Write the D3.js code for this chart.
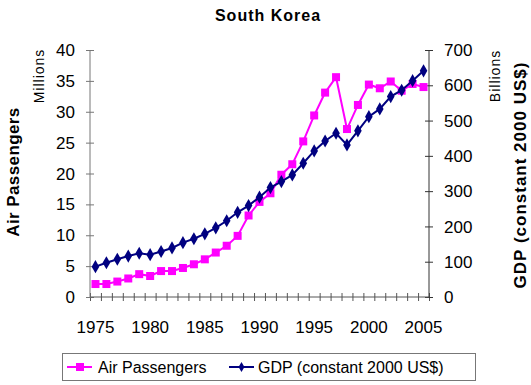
<!DOCTYPE html>
<html>
<head>
<meta charset="utf-8">
<script src="https://cdn.jsdelivr.net/npm/d3@7"></script>
<style>
  body { margin: 0; background: #fff; }
  svg { display: block; font-family: "Liberation Sans", Arial, sans-serif; }
</style>
</head>
<body>
<svg id="chart" width="531" height="385"></svg>
<script>
// chart data
const years = d3.range(1975, 2006);
const passengers = [2.1, 2.1, 2.5, 3.0, 3.7, 3.4, 4.2, 4.2, 4.7, 5.3, 6.1, 7.2, 8.3, 9.9, 13.2,
  15.4, 16.8, 19.8, 21.5, 25.2, 29.4, 33.1, 35.6, 27.2, 31.1, 34.4, 33.8, 34.9, 33.4, 34.5, 34.0];
const gdp = [86, 97, 107, 116, 124, 120, 129, 139, 154, 165, 179, 196, 216, 240, 259,
  283, 310, 327, 346, 379, 414, 442, 464, 431, 471, 511, 533, 568, 586, 613, 641];
const yearLabels = [1975, 1980, 1985, 1990, 1995, 2000, 2005];
const leftTicks = [0, 5, 10, 15, 20, 25, 30, 35, 40];
const rightTicks = [0, 100, 200, 300, 400, 500, 600, 700];

const svg = d3.select("#chart");
const plot = { left: 90, right: 429, top: 50, bottom: 297 };

// scales
const x = d3.scaleBand().domain(years).range([plot.left, plot.right]);
const xEdge = d3.scaleLinear().domain([0, years.length]).range([plot.left, plot.right]);
const yL = d3.scaleLinear().domain([0, 40]).range([plot.bottom, plot.top]);
const yR = d3.scaleLinear().domain([0, 700]).range([plot.bottom, plot.top]);
const cx = d => x(d) + x.bandwidth() / 2;

// title
svg.append("text")
  .attr("x", 268).attr("y", 21)
  .attr("text-anchor", "middle")
  .style("font", "bold 16px 'Liberation Sans', Arial, sans-serif")
  .style("letter-spacing", "1px")
  .text("South Korea");

// x axis: crossing ticks at category edges
svg.append("g")
  .attr("transform", `translate(0,${plot.bottom - 4})`)
  .call(d3.axisBottom(xEdge).tickValues(d3.range(0, years.length + 1)).tickSize(8).tickFormat(""))
  .call(g => g.select(".domain").remove())
  .call(g => g.selectAll("line").attr("stroke", "#555"));

svg.append("g")
  .selectAll("text")
  .data(yearLabels)
  .join("text")
  .attr("x", d => cx(d))
  .attr("y", 333)
  .attr("text-anchor", "middle")
  .style("font-size", "17px")
  .text(d => d);

// left axis
svg.append("g")
  .attr("transform", `translate(${plot.left - 4},0)`)
  .call(d3.axisRight(yL).tickValues(leftTicks).tickSize(8).tickFormat(""))
  .call(g => g.select(".domain").remove())
  .call(g => g.selectAll("line").attr("stroke", "#777"));

svg.append("g")
  .selectAll("text")
  .data(leftTicks)
  .join("text")
  .attr("x", 75)
  .attr("y", d => yL(d))
  .attr("dy", "0.36em")
  .attr("text-anchor", "end")
  .style("font-size", "17px")
  .text(d => d);

// right axis
svg.append("g")
  .attr("transform", `translate(${plot.right - 4},0)`)
  .call(d3.axisRight(yR).tickValues(rightTicks).tickSize(8).tickFormat(""))
  .call(g => g.select(".domain").remove())
  .call(g => g.selectAll("line").attr("stroke", "#333"));

svg.append("g")
  .selectAll("text")
  .data(rightTicks)
  .join("text")
  .attr("x", 444)
  .attr("y", d => yR(d))
  .attr("dy", "0.36em")
  .attr("text-anchor", "start")
  .style("font-size", "17px")
  .text(d => d);

// axis lines
svg.append("line")
  .attr("x1", plot.left).attr("x2", plot.right)
  .attr("y1", plot.bottom).attr("y2", plot.bottom)
  .attr("stroke", "#555");
svg.append("line")
  .attr("x1", plot.left).attr("x2", plot.left)
  .attr("y1", plot.top).attr("y2", plot.bottom)
  .attr("stroke", "#777");
svg.append("line")
  .attr("x1", plot.right).attr("x2", plot.right)
  .attr("y1", plot.top).attr("y2", plot.bottom)
  .attr("stroke", "#333");

// axis titles
svg.append("text")
  .attr("transform", "translate(19,172) rotate(-90)")
  .attr("text-anchor", "middle")
  .style("font", "bold 17px 'Liberation Sans', Arial, sans-serif")
  .style("letter-spacing", "0.4px")
  .text("Air Passengers");
svg.append("text")
  .attr("transform", "translate(44,76) rotate(-90)")
  .attr("text-anchor", "middle")
  .style("font-size", "14px")
  .style("letter-spacing", "1px")
  .text("Millions");
svg.append("text")
  .attr("transform", "translate(500,76) rotate(-90)")
  .attr("text-anchor", "middle")
  .style("font-size", "14px")
  .style("letter-spacing", "1px")
  .text("Billions");
svg.append("text")
  .attr("transform", "translate(526,175) rotate(-90)")
  .attr("text-anchor", "middle")
  .style("font", "bold 17px 'Liberation Sans', Arial, sans-serif")
  .style("letter-spacing", "1px")
  .text("GDP (constant 2000 US$)");

// series
const magenta = "#ff00ff", navy = "#000080";
const diamond = d3.symbol().type(d3.symbolDiamond).size(50);

svg.append("path")
  .datum(years.map((y, i) => [cx(y), yL(passengers[i])]))
  .attr("d", d3.line())
  .attr("fill", "none")
  .attr("stroke", magenta)
  .attr("stroke-width", 2);
svg.append("g")
  .selectAll("rect")
  .data(years)
  .join("rect")
  .attr("x", (d, i) => cx(d) - 4)
  .attr("y", (d, i) => yL(passengers[i]) - 4)
  .attr("width", 8).attr("height", 8)
  .attr("fill", magenta);

svg.append("path")
  .datum(years.map((y, i) => [cx(y), yR(gdp[i])]))
  .attr("d", d3.line())
  .attr("fill", "none")
  .attr("stroke", navy)
  .attr("stroke-width", 2);
svg.append("g")
  .selectAll("path")
  .data(years)
  .join("path")
  .attr("transform", (d, i) => `translate(${cx(d)},${yR(gdp[i])})`)
  .attr("d", diamond)
  .attr("fill", navy);

// legend
const legend = svg.append("g");
legend.append("rect")
  .attr("x", 62.5).attr("y", 353.5)
  .attr("width", 413).attr("height", 27)
  .attr("fill", "#fff")
  .attr("stroke", "#777");
const items = [
  { name: "Air Passengers", color: magenta, x0: 67, tx: 98 },
  { name: "GDP (constant 2000 US$)", color: navy, x0: 229, tx: 258 }
];
items.forEach((it, k) => {
  legend.append("line")
    .attr("x1", it.x0).attr("x2", it.x0 + 25)
    .attr("y1", 367).attr("y2", 367)
    .attr("stroke", it.color).attr("stroke-width", 2);
  if (k === 0) {
    legend.append("rect")
      .attr("x", it.x0 + 9).attr("y", 363)
      .attr("width", 8).attr("height", 8)
      .attr("fill", it.color);
  } else {
    legend.append("path")
      .attr("transform", `translate(${it.x0 + 12.5},367)`)
      .attr("d", d3.symbol().type(d3.symbolDiamond).size(30))
      .attr("fill", it.color);
  }
  legend.append("text")
    .attr("x", it.tx).attr("y", 373)
    .style("font-size", "16px")
    .text(it.name);
});
</script>
</body>
</html>
